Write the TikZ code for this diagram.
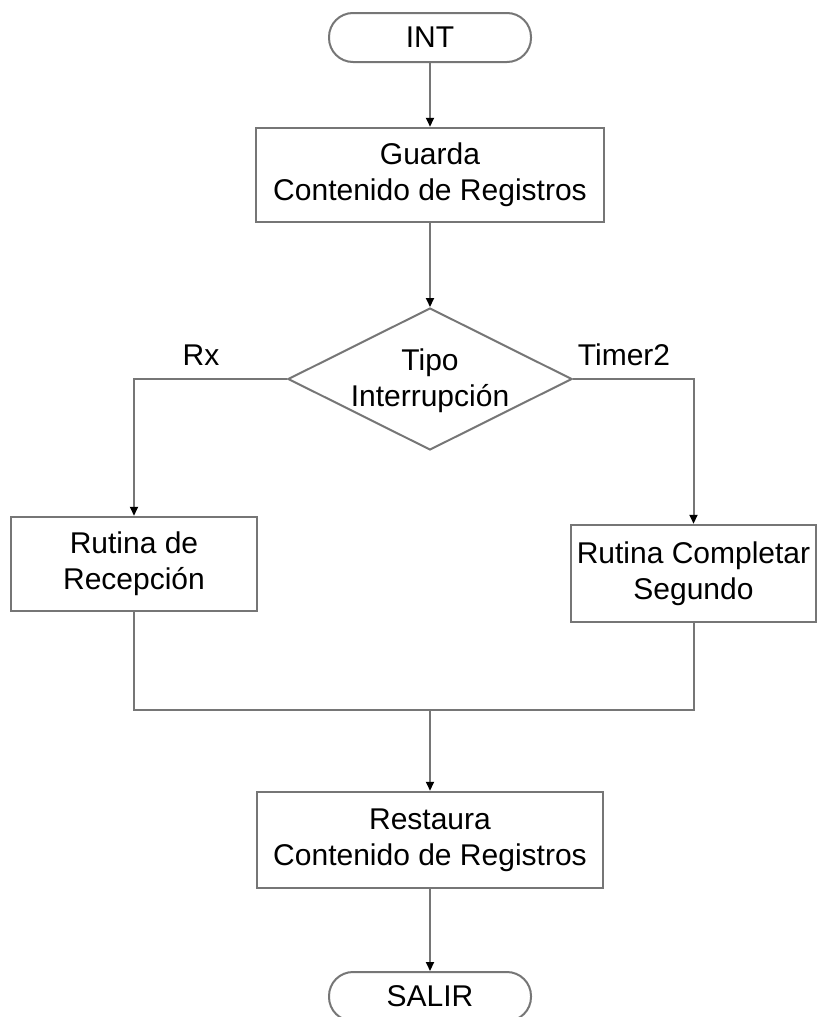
\documentclass[tikz,border=0pt]{standalone}
\usepackage{fontspec}
\setmainfont{Liberation Sans}
\usetikzlibrary{arrows.meta,shapes.geometric}
\definecolor{edge}{RGB}{118,118,118}
\begin{document}
\begin{tikzpicture}[x=1pt,y=-1pt,
  every node/.style={font=\fontsize{30}{36}\selectfont, text=black},
  box/.style={draw=edge, line width=2.5pt, fill=white, rectangle, inner sep=0pt, align=center},
  term/.style={draw=edge, line width=2pt, fill=white, rectangle, rounded corners=24pt,
               minimum width=202pt, minimum height=49pt, inner sep=0pt},
  decide/.style={draw=edge, line width=2pt, diamond, inner sep=0pt,
                 minimum width=284pt, minimum height=142pt},
  flow/.style={draw=edge, line width=2pt},
  arr/.style={flow, -{Triangle[length=9pt,width=8pt,color=black]}},
  tag/.style={inner sep=0pt}]
  \useasboundingbox (0,0) rectangle (817,1017);

  % start and end terminals
  \node[term] (int) at (430,37.5) {INT};
  \node[term] (salir) at (430,996.5) {SALIR};

  % process boxes
  \node[box, minimum width=348pt, minimum height=94pt] (guarda) at (430,175)
    {Guarda\\Contenido de Registros};
  \node[box, minimum width=246pt, minimum height=94pt] (rx) at (134,564)
    {Rutina de\\Recepción};
  \node[box, minimum width=245pt, minimum height=97pt] (timer) at (693.5,573.5)
    {Rutina Completar\\Segundo};
  \node[box, minimum width=346pt, minimum height=96pt] (rest) at (430,840)
    {Restaura\\Contenido de Registros};

  % decision
  \node[decide] (tipo) at (430,379) {};
  \node[tag, align=center] (tipotxt) at (430,381) {Tipo\\Interrupción};

  % branch labels
  \node[tag] (lrx) at (201,355) {Rx};
  \node[tag] (ltimer) at (624,355) {Timer2};

  % connectors
  \coordinate (join) at (430,710);
  \draw[arr] (int) -- (guarda);
  \draw[arr] (guarda) -- (tipo);
  \draw[arr] (tipo.west) -| (rx.north);
  \draw[arr] (tipo.east) -| (timer.north);
  \draw[flow] (rx.south) |- (join) -| (timer.south);
  \draw[arr] (join) -- (rest.north);
  \draw[arr] (rest) -- (salir);
\end{tikzpicture}
\end{document}
